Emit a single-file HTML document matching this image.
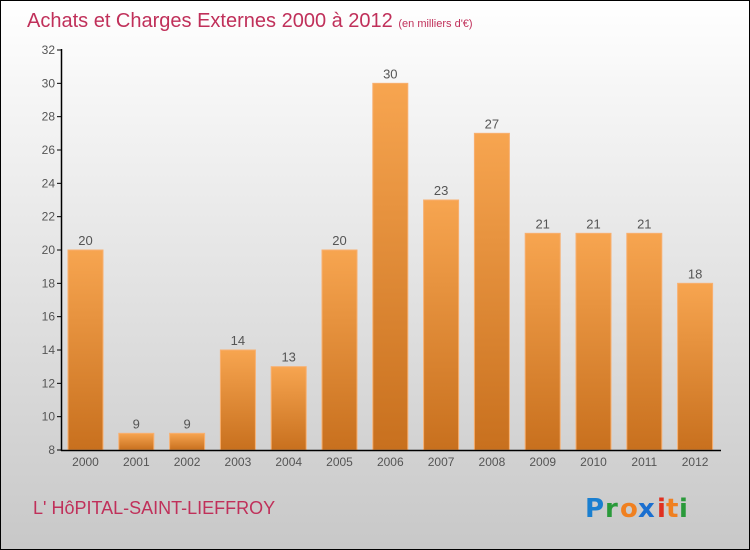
<!DOCTYPE html>
<html><head><meta charset="utf-8"><style>
body{margin:0}
#c{width:750px;height:550px;position:relative;box-sizing:border-box;border:1px solid #000;background:linear-gradient(#fff,#c8c8c8);font-family:"Liberation Sans","DejaVu Sans",sans-serif;overflow:hidden}
</style></head><body>
<div id="c">
<svg id="s" width="750" height="550" style="position:absolute;left:-1px;top:-1px">
<defs><linearGradient id="g" x1="0" y1="0" x2="0" y2="1"><stop offset="0" stop-color="#f7a550"/><stop offset="1" stop-color="#c8701e"/></linearGradient></defs>
<text x="27" y="27" font-size="20" fill="#c0305a" font-family="Liberation Sans, sans-serif">Achats et Charges Externes 2000 à 2012 <tspan font-size="11">  (en milliers d'€)</tspan></text>
<text x="33" y="514" font-size="18" fill="#c0305a" font-family="Liberation Sans, sans-serif">L' HôPITAL-SAINT-LIEFFROY</text>
<g font-size="26" font-weight="bold" font-family="DejaVu Sans, sans-serif"><text x="585" y="517" fill="#1a7fd0">P</text><text x="605" y="517" fill="#2a9a3a">r</text><text x="620" y="517" fill="#f08020">o</text><text x="638" y="517" fill="#1a6fd0">x</text><text x="657" y="517" fill="#e03020">i</text><text x="666" y="517" fill="#f08020">t</text><text x="679" y="517" fill="#2a9a3a">i</text></g>
<g id="plot"></g>
</svg></div>
<script>
const categories=["2000","2001","2002","2003","2004","2005","2006","2007","2008","2009","2010","2011","2012"];
const values=[20,9,9,14,13,20,30,23,27,21,21,21,18];
const yTicks=[8,10,12,14,16,18,20,22,24,26,28,30,32];
const NS="http://www.w3.org/2000/svg";
const g=document.getElementById('plot');
const y=v=>450-(v-8)*400/24;
const x=i=>85.5+i*50.8;
function mk(t,a){const e=document.createElementNS(NS,t);for(const k in a)e.setAttribute(k,a[k]);g.appendChild(e);return e;}
yTicks.forEach(t=>{
 const l=mk('line',{x1:57,x2:62,y1:y(t),y2:y(t),stroke:'#000'});
 
 
 const tx=mk('text',{x:55,y:y(t)+4,'text-anchor':'end','font-size':12,fill:'#555'});
 tx.textContent=t;
 
 
});
values.forEach((v,i)=>{
 const r=mk('rect',{x:x(i)-17.5,y:y(v),width:35,height:450-y(v),fill:'url(#g)',stroke:'#f8b070','stroke-width':1});
 
 
 const t=mk('text',{x:x(i),y:y(v)-5,'text-anchor':'middle','font-size':13,fill:'#555'});
 t.textContent=v;
 
 
 const c=mk('text',{x:x(i),y:466,'text-anchor':'middle','font-size':12,fill:'#555'});
 c.textContent=categories[i];
 
 
});
const ya=mk('line',{x1:61.5,x2:61.5,y1:49,y2:451,stroke:'#000','stroke-width':1.5});


const xa=mk('line',{x1:61,x2:721,y1:450.5,y2:450.5,stroke:'#000','stroke-width':1.5});


</script>
</body></html>
